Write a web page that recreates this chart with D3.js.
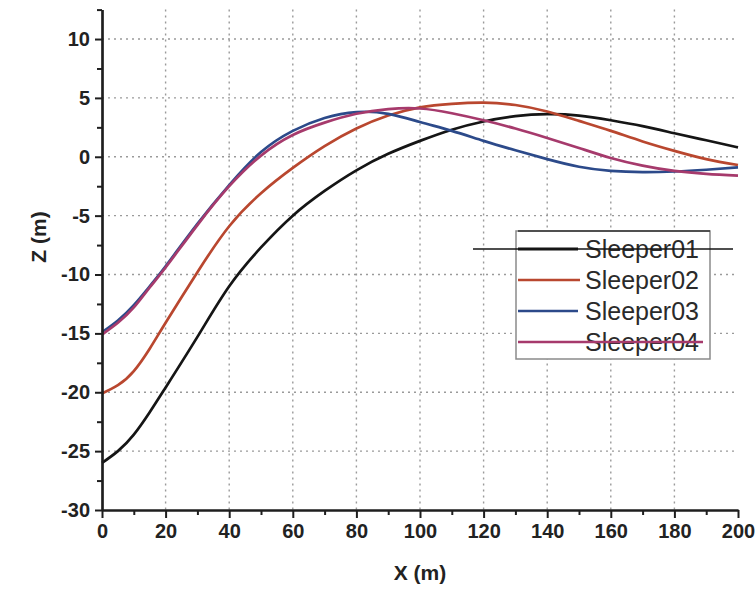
<!DOCTYPE html>
<html>
<head>
<meta charset="utf-8">
<script src="https://cdn.jsdelivr.net/npm/d3@7"></script>
<style>
  html, body { margin: 0; padding: 0; background: #fff; }
  svg { display: block; font-family: "Liberation Sans", Arial, sans-serif; }
</style>
</head>
<body>
<svg id="chart" width="756" height="589"></svg>
<script>
// Horizontal stations along the track (m)
const xValues = [0, 5, 10, 15, 20, 30, 40, 50, 60, 70, 80, 90, 100, 110, 120, 130, 140, 150, 160, 170, 180, 190, 200];

// Vertical position Z (m) of each sleeper at those stations
const sleeper01 = [-26.0, -25.0, -23.6, -21.7, -19.6, -15.3, -11.0, -7.7, -5.0, -2.9, -1.15, 0.25, 1.35, 2.3, 3.0, 3.45, 3.62, 3.5, 3.1, 2.6, 2.0, 1.4, 0.8];
const sleeper02 = [-20.1, -19.4, -18.2, -16.3, -14.1, -9.8, -5.9, -3.1, -0.95, 0.9, 2.4, 3.5, 4.2, 4.5, 4.6, 4.4, 3.85, 3.05, 2.2, 1.3, 0.5, -0.2, -0.7];
const sleeper03 = [-14.9, -13.9, -12.6, -11.0, -9.3, -5.7, -2.4, 0.4, 2.2, 3.3, 3.8, 3.65, 2.95, 2.2, 1.35, 0.55, -0.2, -0.85, -1.2, -1.3, -1.25, -1.1, -0.9];
const sleeper04 = [-15.1, -14.1, -12.8, -11.1, -9.4, -5.8, -2.5, 0.1, 1.85, 2.9, 3.65, 4.05, 4.1, 3.7, 3.1, 2.4, 1.6, 0.75, -0.1, -0.75, -1.2, -1.45, -1.6];

const seriesNames = ["Sleeper01", "Sleeper02", "Sleeper03", "Sleeper04"];
const seriesColors = ["#151515", "#b9472f", "#2c4a8a", "#a63a6c"];
const seriesValues = [sleeper01, sleeper02, sleeper03, sleeper04];

const xTickValues = [0, 20, 40, 60, 80, 100, 120, 140, 160, 180, 200];
const yTickValues = [-30, -25, -20, -15, -10, -5, 0, 5, 10];

const svg = d3.select("#chart");

const x = d3.scaleLinear().domain([0, 200]).range([102, 738]);
const y = d3.scaleLinear().domain([-30, 12.5]).range([510, 9.6]);

// Dotted grid
const grid = svg.append("g").attr("stroke", "#9a9a9a").attr("stroke-width", 1.4)
  .attr("stroke-dasharray", "2,4");
grid.selectAll("line.h").data(yTickValues.filter(v => v > -30)).join("line")
  .attr("class", "h")
  .attr("x1", x(0)).attr("x2", x(200))
  .attr("y1", d => y(d)).attr("y2", d => y(d));
grid.selectAll("line.v").data(xTickValues.filter(v => v > 0 && v < 200)).join("line")
  .attr("class", "v")
  .attr("x1", d => x(d)).attr("x2", d => x(d))
  .attr("y1", y(12.5)).attr("y2", y(-30));

// Curves
const line = d3.line()
  .x((d, i) => x(xValues[i]))
  .y(d => y(d))
  .curve(d3.curveNatural);

svg.append("g").selectAll("path").data(seriesValues).join("path")
  .attr("d", d => line(d))
  .attr("fill", "none")
  .attr("stroke", (d, i) => seriesColors[i])
  .attr("stroke-width", 2.7)
  .attr("stroke-linejoin", "round");

// Axes
const axisColor = "#1e1e1e";
const fmt = d => String(d);
const xAxisMinor = d3.axisBottom(x).tickValues(d3.range(10, 200, 20)).tickSize(5).tickSizeOuter(0).tickFormat("");
const xAxis = d3.axisBottom(x).tickValues(xTickValues).tickSize(8).tickSizeOuter(0).tickPadding(6).tickFormat(fmt);
const yAxisMinor = d3.axisLeft(y).tickValues(d3.range(-27.5, 13, 5)).tickSize(5).tickSizeOuter(0).tickFormat("");
const yAxis = d3.axisLeft(y).tickValues(yTickValues).tickSize(7).tickSizeOuter(0).tickPadding(5).tickFormat(fmt);

function styleAxis(g) {
  g.select(".domain").attr("stroke", axisColor).attr("stroke-width", 2.2);
  g.selectAll(".tick line").attr("stroke", axisColor).attr("stroke-width", 2);
  g.selectAll(".tick text")
    .attr("fill", "#222")
    .style("font-family", "'Liberation Sans', Arial, sans-serif")
    .style("font-size", "20px")
    .style("font-weight", "bold");
}

svg.append("g").attr("transform", `translate(0,${y(-30)})`).call(xAxisMinor).call(styleAxis);
svg.append("g").attr("transform", `translate(0,${y(-30)})`).call(xAxis).call(styleAxis);
svg.append("g").attr("transform", `translate(${x(0)},0)`).call(yAxisMinor).call(styleAxis);
svg.append("g").attr("transform", `translate(${x(0)},0)`).call(yAxis).call(styleAxis);

// Axis titles
svg.append("text")
  .attr("x", 420).attr("y", 580)
  .attr("text-anchor", "middle")
  .attr("fill", "#222")
  .style("font-size", "21px").style("font-weight", "bold")
  .text("X (m)");

svg.append("text")
  .attr("transform", "translate(46,237) rotate(-90)")
  .attr("text-anchor", "middle")
  .attr("fill", "#222")
  .style("font-size", "21px").style("font-weight", "bold")
  .text("Z (m)");

// Legend
const legend = svg.append("g");
legend.append("rect")
  .attr("x", 516).attr("y", 231).attr("width", 194).attr("height", 128)
  .attr("fill", "#fff").attr("stroke", "#8a8a8a").attr("stroke-width", 1.5);
legend.append("line")
  .attr("x1", 518).attr("x2", 710).attr("y1", 231).attr("y2", 231)
  .attr("stroke", "#333").attr("stroke-width", 1.6);

const rowY = [249, 280, 311, 342];
const sampleEnd = [733, 580, 578, 703];
const sampleStart = [473, 518, 518, 518];

legend.selectAll("text.lbl").data(seriesNames).join("text")
  .attr("class", "lbl")
  .attr("x", 585)
  .attr("y", (d, i) => rowY[i] + 9)
  .attr("fill", "#2a2a2a")
  .style("font-size", "25px")
  .text(d => d);

legend.selectAll("line.sample").data(seriesNames).join("line")
  .attr("class", "sample")
  .attr("x1", (d, i) => sampleStart[i]).attr("x2", (d, i) => sampleEnd[i])
  .attr("y1", (d, i) => rowY[i]).attr("y2", (d, i) => rowY[i])
  .attr("stroke", (d, i) => seriesColors[i])
  .attr("stroke-width", (d, i) => i === 0 ? 1.6 : 2.6);

legend.append("line")
  .attr("x1", 518).attr("x2", 578).attr("y1", rowY[0]).attr("y2", rowY[0])
  .attr("stroke", seriesColors[0]).attr("stroke-width", 3);
</script>
</body>
</html>
